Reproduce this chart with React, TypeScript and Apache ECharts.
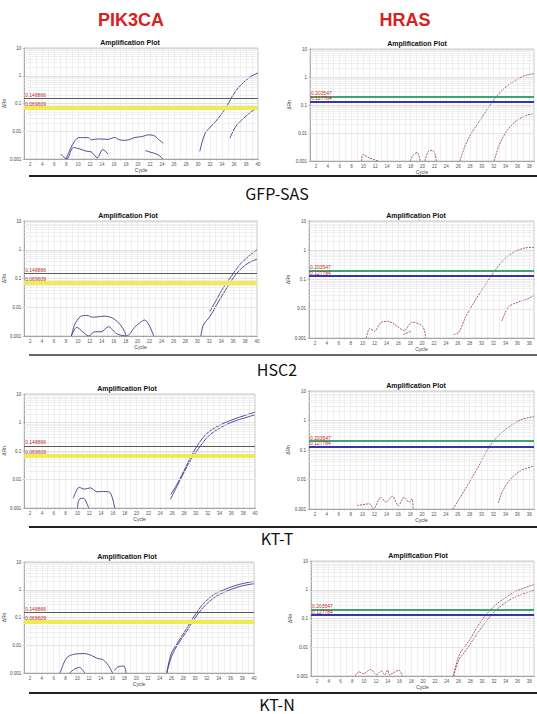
import React, { useEffect, useRef } from "react";
import * as echarts from "echarts";

// ---------------- data ----------------
const genes = ["PIK3CA", "HRAS"];
const samples = ["GFP-SAS", "HSC2", "KT-T", "KT-N"];
const plotTitle = "Amplification Plot";
const pik3caThresholds = [0.148866, 0.069609];
const hrasThresholds = [0.203547, 0.127784];

// GFP-SAS / PIK3CA
const gfpPikNoise1 = [[8.0,0.001],[10.1,0.0059],[11.7,0.0059],[12.2,0.0049],[13.3,0.0053],[15.0,0.0051],[16.1,0.006],[16.7,0.0051],[17.5,0.0047],[18.4,0.0049],[19.5,0.006],[20.6,0.0064],[21.7,0.0074],[22.6,0.0071],[23.4,0.0051],[24.2,0.0037]];
const gfpPikNoise2 = [[7.1,0.0015],[8.1,0.001],[9.2,0.0026],[10.3,0.0023],[11.4,0.0019],[12.2,0.0018],[13.2,0.0011],[14.1,0.0022],[15.0,0.0015]];
const gfpPikNoise3 = [[21.2,0.002],[22.3,0.0017],[23.1,0.0015],[23.8,0.0012],[24.1,0.001]];
const gfpPikAmp1 = [[30.3,0.0019],[31.2,0.0085],[32.9,0.022],[34.6,0.068],[35.7,0.18],[36.8,0.39],[37.9,0.66],[39.0,1.0],[40,1.25]];
const gfpPikAmp2 = [[35.3,0.0056],[36.3,0.015],[37.4,0.027],[38.8,0.049],[40,0.074]];

// GFP-SAS / HRAS
const gfpHrasNoise1 = [[9.7,0.001],[9.9,0.0017],[11.0,0.0013],[12.5,0.001]];
const gfpHrasNoise2 = [[17.9,0.001],[18.5,0.0017],[19.1,0.002],[19.6,0.001]];
const gfpHrasNoise3 = [[20.4,0.001],[20.9,0.0021],[21.6,0.0024],[22.1,0.0018],[22.3,0.001]];
const gfpHrasAmp1 = [[26.3,0.001],[27.1,0.0032],[28.2,0.0095],[29.9,0.033],[31.6,0.115],[33.2,0.3],[34.9,0.6],[37.1,1.1],[38.8,1.3]];
const gfpHrasAmp2 = [[32.1,0.001],[32.9,0.0036],[34.3,0.0126],[36.0,0.029],[37.7,0.044],[38.8,0.05]];

// HSC2 / PIK3CA
const hscPikNoise1 = [[8.9,0.001],[9.5,0.0026],[10.4,0.0047],[11.5,0.0052],[12.5,0.0045],[13.6,0.0047],[14.4,0.0049],[15.5,0.0045],[16.6,0.0032],[17.5,0.0019],[18.1,0.001]];
const hscPikNoise2 = [[8.9,0.001],[9.8,0.002],[10.8,0.0014],[11.8,0.001],[12.8,0.0014],[13.9,0.0014],[15.1,0.0021],[16.5,0.0012],[18.1,0.001],[19.7,0.0022],[21.2,0.0036],[22.7,0.001]];
const hscPikAmp1 = [[32.1,0.0071],[33.2,0.018],[34.3,0.046],[35.7,0.12],[37.1,0.3],[38.5,0.57],[40,1.0]];
const hscPikAmp2 = [[30.6,0.001],[31.0,0.0024],[32.1,0.0047],[33.5,0.015],[35.4,0.067],[36.8,0.17],[38.5,0.34],[40,0.47]];

// HSC2 / HRAS
const hscHrasNoise1 = [[10.6,0.001],[11.2,0.0021],[12.0,0.0017],[13.1,0.0034],[14.2,0.0037],[15.3,0.003],[17.0,0.0018],[18.3,0.0035],[20.1,0.0025],[20.6,0.001]];
const hscHrasNoise2 = [[16.8,0.0013],[18.1,0.0017]];
const hscHrasAmp1 = [[25.3,0.0013],[26.2,0.0016],[27.3,0.0052],[28.9,0.019],[30.6,0.065],[32.3,0.21],[33.9,0.52],[35.6,0.9],[37.3,1.2],[38.8,1.25]];
const hscHrasAmp2 = [[33.4,0.0038],[34.5,0.0115],[36.2,0.017],[37.8,0.022],[38.8,0.029]];

// KT-T / PIK3CA
const kttPikNoise1 = [[9.3,0.0022],[10.3,0.0053],[11.2,0.0046],[12.2,0.0051],[13.3,0.0037],[14.4,0.0038],[15.5,0.0035],[16.3,0.001]];
const kttPikNoise2 = [[10.0,0.001],[10.3,0.002],[11.0,0.0022],[11.9,0.001]];
const kttPikAmp1 = [[25.8,0.003],[27.2,0.0095],[28.9,0.048],[30.3,0.16],[31.9,0.42],[33.9,0.78],[36.1,1.23],[38.3,1.78],[40,2.3]];
const kttPikAmp2 = [[25.7,0.002],[27.2,0.0083],[28.9,0.04],[30.5,0.125],[32.1,0.33],[34.1,0.65],[36.3,1.07],[38.5,1.5],[40,1.87]];

// KT-T / HRAS
const kttHrasNoise1 = [[9.1,0.0013],[11.2,0.0015],[11.8,0.001],[13.1,0.0025],[13.9,0.0017],[15.0,0.0027],[16.0,0.0013],[17.0,0.0025],[17.8,0.0017],[18.3,0.0022],[18.5,0.001]];
const kttHrasAmp1 = [[25.2,0.001],[26.3,0.0023],[28.0,0.0085],[29.6,0.031],[31.3,0.13],[33.0,0.33],[34.9,0.67],[36.8,1.1],[38.8,1.35]];
const kttHrasAmp2 = [[32.8,0.0016],[33.5,0.004],[34.8,0.01],[36.4,0.019],[38.8,0.029]];

// KT-N / PIK3CA
const ktnPikNoise1 = [[7.1,0.001],[8.2,0.0035],[9.6,0.0048],[11.3,0.005],[12.4,0.0043],[13.5,0.0033],[14.3,0.0031],[15.2,0.002],[16.0,0.001]];
const ktnPikNoise2 = [[8.7,0.001],[9.6,0.0014],[10.4,0.0016],[11.0,0.0012],[11.3,0.001]];
const ktnPikNoise3 = [[16.3,0.0012],[16.8,0.0016],[17.9,0.0018],[18.3,0.001]];
const ktnPikAmp1 = [[25.2,0.001],[25.9,0.0046],[27.0,0.012],[28.4,0.035],[29.8,0.107],[31.2,0.28],[33.1,0.65],[35.4,1.1],[37.6,1.58],[40,2.0]];
const ktnPikAmp2 = [[25.2,0.001],[26.0,0.0039],[27.1,0.011],[28.5,0.03],[29.9,0.09],[31.4,0.23],[33.4,0.55],[35.6,0.93],[37.8,1.35],[40,1.65]];

// KT-N / HRAS
const ktnHrasNoise1 = [[8.5,0.001],[9.1,0.0014],[9.9,0.0012],[11.1,0.0017],[12.1,0.0011],[12.9,0.0015],[13.5,0.0011],[14.0,0.0016],[14.3,0.0011],[15.0,0.0013],[15.9,0.0016],[16.5,0.001]];
const ktnHrasAmp1 = [[25.1,0.001],[25.9,0.0041],[26.5,0.0074],[27.9,0.018],[29.2,0.052],[30.6,0.13],[32.3,0.3],[34.2,0.57],[35.8,0.91],[38.8,1.5]];
const ktnHrasAmp2 = [[25.2,0.001],[26.0,0.0035],[26.7,0.0055],[28.1,0.014],[29.5,0.037],[31.0,0.095],[32.6,0.22],[34.5,0.42],[36.1,0.62],[38.8,0.95]];

const panelCurves = [
  [gfpPikNoise1, gfpPikNoise2, gfpPikNoise3, gfpPikAmp1, gfpPikAmp2],
  [gfpHrasNoise1, gfpHrasNoise2, gfpHrasNoise3, gfpHrasAmp1, gfpHrasAmp2],
  [hscPikNoise1, hscPikNoise2, hscPikAmp1, hscPikAmp2],
  [hscHrasNoise1, hscHrasNoise2, hscHrasAmp1, hscHrasAmp2],
  [kttPikNoise1, kttPikNoise2, kttPikAmp1, kttPikAmp2],
  [kttHrasNoise1, kttHrasAmp1, kttHrasAmp2],
  [ktnPikNoise1, ktnPikNoise2, ktnPikNoise3, ktnPikAmp1, ktnPikAmp2],
  [ktnHrasNoise1, ktnHrasAmp1, ktnHrasAmp2],
];

// ---------------- layout ----------------
const gridBoxes = [
  { left: 23, top: 48, width: 235, height: 111 },
  { left: 310, top: 49, width: 227, height: 112 },
  { left: 21, top: 221, width: 236, height: 115 },
  { left: 309, top: 221, width: 228, height: 117 },
  { left: 20, top: 394, width: 235, height: 114 },
  { left: 309, top: 391, width: 228, height: 118 },
  { left: 20, top: 562, width: 234, height: 111 },
  { left: 311, top: 561, width: 226, height: 115 },
];
const rowLineY = [176, 355, 527, 693];
const rowLabelY = [193, 369, 538, 703.5];

const minorLogValues: number[] = [];
for (let e = -3; e <= 0; e++) {
  for (let k = 2; k <= 9; k++) minorLogValues.push(+(k * Math.pow(10, e)).toPrecision(2));
}

export default function App() {
  const ref = useRef<HTMLDivElement>(null);
  useEffect(() => {
    if (!ref.current) return;
    const chart = echarts.init(ref.current, null, { renderer: "svg" });

    const grid: any[] = [];
    const xAxis: any[] = [];
    const yAxis: any[] = [];
    const series: any[] = [];
    const graphic: any[] = [];

    gridBoxes.forEach((b, i) => {
      const isHras = i % 2 === 1;
      grid.push({ ...b, show: true, borderColor: "#c8c8c8", borderWidth: 1, backgroundColor: "#fff" });
      xAxis.push({
        type: "value",
        gridIndex: i,
        min: 1,
        max: isHras ? 38.8 : 40,
        interval: 1,
        name: "Cycle",
        nameLocation: "middle",
        nameGap: 8,
        nameTextStyle: { fontSize: 5, color: "#444", fontFamily: "Liberation Sans" },
        axisLine: { lineStyle: { color: "#999", width: 0.8 } },
        axisTick: { show: true, length: 1.5, lineStyle: { color: "#999", width: 0.5 } },
        axisLabel: {
          fontSize: 4.5,
          color: "#555",
          margin: 2.5,
          fontFamily: "Liberation Sans",
          showMinLabel: false,
          showMaxLabel: true,
          hideOverlap: false,
          formatter: (v: number) => (Math.abs(v - Math.round(v)) < 1e-6 && Math.round(v) % 2 === 0 ? String(Math.round(v)) : ""),
        },
        splitLine: { show: true, lineStyle: { color: "#e4e4e4", width: 0.6 } },
      });
      yAxis.push({
        type: "log",
        gridIndex: i,
        logBase: 10,
        min: 0.001,
        max: 10,
        splitNumber: 4,
        name: "ΔRn",
        nameLocation: "middle",
        nameGap: 14,
        nameRotate: 90,
        nameTextStyle: { fontSize: 5, color: "#444", fontFamily: "Liberation Sans" },
        axisLine: { show: true, lineStyle: { color: "#999", width: 0.8 } },
        axisTick: { show: true, length: 1.5, lineStyle: { color: "#999", width: 0.5 } },
        axisLabel: {
          fontSize: 4.5,
          color: "#444",
          margin: 3,
          fontFamily: "Liberation Sans",
          formatter: (v: number) => (v >= 1 ? String(Math.round(v)) : v.toPrecision(1)),
        },
        splitLine: { show: true, lineStyle: { color: "#d2d2d2", width: 0.7 } },
      });

      // minor log grid lines
      series.push({
        type: "line",
        xAxisIndex: i,
        yAxisIndex: i,
        data: [[1, 0.001]],
        symbol: "none",
        lineStyle: { opacity: 0 },
        silent: true,
        z: 1,
        markLine: {
          silent: true,
          symbol: ["none", "none"],
          label: { show: false },
          lineStyle: { color: "#e6e6e6", width: 0.6, type: "solid" },
          data: minorLogValues.map((v) => ({ yAxis: v })),
        },
      });

      // thresholds
      const th = isHras ? hrasThresholds : pik3caThresholds;
      const thStyles = isHras
        ? [{ color: "#3fa46e", width: 2.2 }, { color: "#3434b8", width: 2.2 }]
        : [{ color: "#5a5a5a", width: 1.1 }, { color: "#f0ea55", width: 4 }];
      series.push({
        type: "line",
        xAxisIndex: i,
        yAxisIndex: i,
        data: [[1, 0.001]],
        symbol: "none",
        lineStyle: { opacity: 0 },
        silent: true,
        z: 2,
        markLine: {
          silent: true,
          symbol: ["none", "none"],
          data: th.map((v, k) => ({
            yAxis: v,
            lineStyle: { ...thStyles[k], type: "solid" },
            label: {
              show: true,
              position: "insideStartTop",
              formatter: String(v),
              color: "#c0302a",
              fontSize: 5,
              distance: 1,
              fontFamily: "Liberation Sans",
            },
          })),
        },
      });

      panelCurves[i].forEach((curve) => {
        series.push({
          type: "line",
          xAxisIndex: i,
          yAxisIndex: i,
          data: curve,
          symbol: "none",
          smooth: 0.3,
          z: 3,
          lineStyle: isHras
            ? { color: "#a24a5a", width: 0.9, type: [2, 1] }
            : { color: "#3c3c8c", width: 0.9 },
        });
      });

      graphic.push({
        type: "text",
        x: b.left + 107,
        y: b.top - 5.5,
        style: {
          text: plotTitle,
          fill: "#111",
          font: "bold 7px 'Liberation Sans', Arial, sans-serif",
          textAlign: "center",
          textVerticalAlign: "middle",
        },
      });
    });

    genes.forEach((g, k) => {
      graphic.push({
        type: "text",
        x: k === 0 ? 131 : 405,
        y: 19.5,
        style: {
          text: g,
          fill: "#d8201e",
          font: "bold 18px 'Liberation Sans', Arial, sans-serif",
          textAlign: "center",
          textVerticalAlign: "middle",
        },
      });
    });

    samples.forEach((s, r) => {
      graphic.push({
        type: "line",
        shape: { x1: 29, y1: rowLineY[r], x2: 537, y2: rowLineY[r] },
        style: { stroke: r === 1 ? "#666" : "#222", lineWidth: 2 },
      });
      graphic.push({
        type: "text",
        x: 277,
        y: rowLabelY[r],
        style: {
          text: s,
          fill: "#111",
          font: "16px 'Noto Sans CJK KR', 'Noto Sans', sans-serif",
          textAlign: "center",
          textVerticalAlign: "middle",
        },
      });
    });

    chart.setOption({
      animation: false,
      backgroundColor: "#fff",
      grid,
      xAxis,
      yAxis,
      series,
      graphic,
    });
    return () => chart.dispose();
  }, []);
  return (
    <div
      ref={ref}
      style={{ position: "fixed", left: 0, top: 0, width: 537, height: 714, background: "#fff" }}
    />
  );
}
